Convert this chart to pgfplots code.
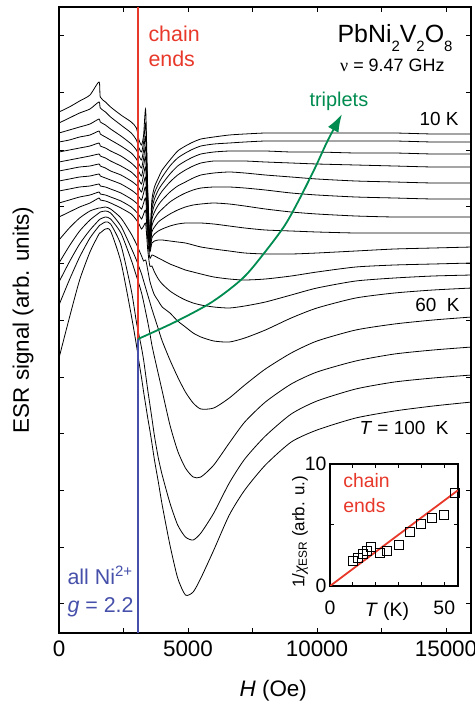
\documentclass[border=0pt]{standalone}
\usepackage{fontspec}
\setmainfont{Liberation Sans}
\newfontfamily\seriffont{Liberation Serif}
\usepackage{pgfplots}
\pgfplotsset{compat=1.18}
\usepackage{pgfplotstable}
\usetikzlibrary{arrows.meta}
\definecolor{cred}{RGB}{232,56,42}
\definecolor{cblue}{RGB}{70,80,170}
\definecolor{cgreen}{RGB}{0,140,80}

\pgfplotstableread{
H c1 c2 c3 c4 c5 c6 c7 c8 c9 c10 c11 c12 c13 c14 c15 c16
0 112 123 133 142 152 162 171 181 191 203 217 240 263 282 305 358
400 107 118 130 140 150 160 169 179 189 200 212 228 246 262 280 318
800 101 113 127 137 148 158 167 177 187 197 207 218 231 244 257 280
1200 95 109 124 135 146 156 166 176 186 195 203 211 220 230 238 252
1550 82 102 119 131 143 154 164 174 184 192 198 208 213 220 226 234
1600 97 108 122 134 146 156 166 176 186 194 200 208 212 219 225 233
1800 102 112 125 137 148 158 168 178 187 195 201 207 211 217 222 229
2000 107 117 129 140 151 161 171 180 189 197 203 209 213 219 224 231
2400 115 125 136 146 156 166 175 184 193 201 208 218 226 233 245 262
2800 122 133 144 153 163 172 181 190 199 207 214 234 248 260 290 315
3000 128 140 150 159 168 177 185 194 203 212 220 244 260 276 322 345
3100 140 148 156 164 172 180 188 197 206 215 224 250 267 284 335 362
3200 145 152 160 168 176 184 192 200 209 219 229 256 274 293 348 378
3280 135 142 150 158 166 175 184 193 203 214 226 261 281 302 360 392
3360 110 125 138 148 158 168 178 188 199 211 224 260 288 312 375 405
3440 190 195 200 205 210 215 220 226 232 240 250 270 295 322 390 418
3520 236 238 240 242 244 246 248 250 252 258 266 281 302 333 404 430
3600 200 205 210 215 220 226 232 238 243 255 266 288 309 345 418 443
3700 187 193 199 205 212 219 227 234 241 256 272 295 317 357 436 460
3850 178 184 190 197 205 213 222 231 240 258 279 301 329 374 458 482
4000 170 177 184 191 200 209 219 229 240 260 284 307 341 391 475 505
4300 160 166 174 182 192 202 214 226 241 264 291 313 360 425 503 545
4600 151 158 166 175 186 197 210 224 242 267 296 321 377 451 525 578
4900 146 153 161 170 182 193 207 223 243 270 300 327 392 468 537 595
5200 142 149 157 166 178 190 205 223 245 272 303 333 403 477 540 592
5500 139 146 154 163 175 188 204 223 247 274 305 337 409 477 533 578
6000 137 144 152 161 173 187 203 224 249 277 307 341 408 465 513 550
6600 135 143 151 161 172 187 204 226 251 279 308 342 398 443 483 515
7200 134 142 151 161 173 188 206 228 253 280 306 338 385 422 459 490
8000 133 141 151 162 175 190 209 230 254 279 302 330 369 402 436 465
9000 133 141 152 163 177 193 212 231 254 276 295 318 353 384 414 442
10000 133 141 152 164 179 195 214 232 253 272 288 308 341 372 401 430
11500 133 141 153 165 181 197 216 233 251 267 281 298 330 361 389 418
13000 133 141 153 166 182 198 217 233 249 265 278 293 324 354 382 411
14500 134 142 154 167 183 199 217 233 248 264 276 290 320 350 378 406
16000 134 142 154 167 183 199 217 233 247 263 275 288 317 347 375 402
}\esr

\pgfplotstableread{
T y
10.1 2.05
12.3 2.3
14.2 2.6
16.0 2.9
18.1 3.2
21.7 2.7
24.9 2.9
30.1 3.4
35.1 4.45
39.9 5.1
44.6 5.6
50.0 5.8
54.6 7.6
}\inset

\begin{document}
\begin{tikzpicture}
\path[use as bounding box] (0,0) rectangle (475bp,707bp);
\begin{axis}[
  at={(59bp,74bp)}, anchor=south west,
  width=412bp, height=626bp, scale only axis,
  xmin=0, xmax=15969, ymin=7, ymax=633, y dir=reverse,
  xtick={0,5000,10000,15000}, minor xtick={2500,7500,12500},
  ytick={36,93,150,206,263,320,377,433,490,547,603}, yticklabels={},
  scaled x ticks=false,
  tick pos=both, tick align=inside,
  major tick length=5bp, minor tick length=5bp,
  every tick/.style={line width=1bp, black},
  axis line style={line width=1.5bp},
  /pgf/number format/assume math mode=true,
  /pgf/number format/set thousands separator={},
  xticklabel style={font=\fontsize{22.5}{27}\selectfont, yshift=-4bp},
  xlabel={\textit{H} (Oe)}, ylabel={ESR signal (arb. units)},
  label style={font=\fontsize{22.5}{27}\selectfont},
  xlabel style={at={(axis description cs:0.52,-0.0927)}, anchor=center},
  ylabel style={at={(axis description cs:-0.0874,0.5)}, anchor=center},
]
\pgfplotsinvokeforeach{1,...,16}{
  \addplot[black, line width=0.8bp, smooth, tension=0.4] table[x=H, y=c#1] {\esr};
}
\addplot[cred, line width=1.8bp] coordinates {(3062,7) (3062,339)};
\addplot[cblue, line width=1.8bp] coordinates {(3062,339) (3062,633)};
\addplot[cgreen, line width=1.8bp, smooth, -{Latex[length=18bp,width=12bp]}] coordinates {
  (3062,339) (4496,322) (5930,302) (7132,278) (7985,252) (8760,225) (9341,198) (9922,168) (10426,140) (10969,114)};
\node[anchor=base west, text=cred, font=\fontsize{21.5}{25}\selectfont] at (3333,42) {chain};
\node[anchor=base west, text=cred, font=\fontsize{21.5}{25}\selectfont] at (3333,67) {ends};
\node[anchor=base east, font=\fontsize{25}{30}\selectfont] at (15388,43)
  {PbNi\raisebox{-9bp}{\fontsize{15}{15}\selectfont 2}V\raisebox{-9bp}{\fontsize{15}{15}\selectfont 2}O\raisebox{-9bp}{\fontsize{15}{15}\selectfont 8}};
\node[anchor=base east, font=\fontsize{18}{22}\selectfont] at (15078,72) {{\seriffont ν} = 9.47 GHz};
\node[anchor=base west, text=cgreen, font=\fontsize{20}{24}\selectfont] at (9574,106) {triplets};
\node[anchor=base east, font=\fontsize{19}{23}\selectfont] at (15620,125) {10 K};
\node[anchor=base east, font=\fontsize{19}{23}\selectfont] at (15659,311) {60~~K};
\node[anchor=base east, font=\fontsize{19}{23}\selectfont] at (15233,434) {\textit{T} = 100~~K};
\node[anchor=base west, text=cblue, font=\fontsize{21.5}{25}\selectfont] at (194,584) {all Ni\textsuperscript{2+}};
\node[anchor=base west, text=cblue, font=\fontsize{21.5}{25}\selectfont] at (194,612) {\textit{g} = 2.2};
\end{axis}

\begin{axis}[
  at={(330bp,121bp)}, anchor=south west,
  width=128bp, height=122bp, scale only axis,
  xmin=0, xmax=56, ymin=0, ymax=10,
  xtick={0,50}, minor xtick={10,20,30,40},
  ytick={0,10}, minor ytick={5},
  tick pos=both, tick align=inside,
  major tick length=4bp, minor tick length=4bp,
  every tick/.style={line width=1bp, black},
  axis line style={line width=1.5bp},
  axis background/.style={fill=white},
  /pgf/number format/assume math mode=true,
  ticklabel style={font=\fontsize{19.5}{23}\selectfont},
  xticklabel style={yshift=-11bp},
  xlabel={\textit{T} (K)},
  ylabel={1/{\seriffont\itshape χ}\textsubscript{ESR} (arb. u.)},
  xlabel style={font=\fontsize{19.5}{23}\selectfont, at={(axis description cs:0.445,-0.205)}, anchor=center},
  ylabel style={font=\fontsize{17}{20}\selectfont, at={(axis description cs:-0.234,0.443)}, anchor=center},
]
\addplot[cred, line width=1.8bp] coordinates {(0,0) (56,7.85)};
\addplot[only marks, mark=square, mark size=4.5bp, mark options={fill=white, draw=black, line width=0.9bp}] table[x=T, y=y] {\inset};
\node[anchor=base west, text=cred, font=\fontsize{19.5}{23}\selectfont] at (4.3,8.1) {chain};
\node[anchor=base west, text=cred, font=\fontsize{19.5}{23}\selectfont] at (4.3,6.0) {ends};
\end{axis}
\end{tikzpicture}
\end{document}
